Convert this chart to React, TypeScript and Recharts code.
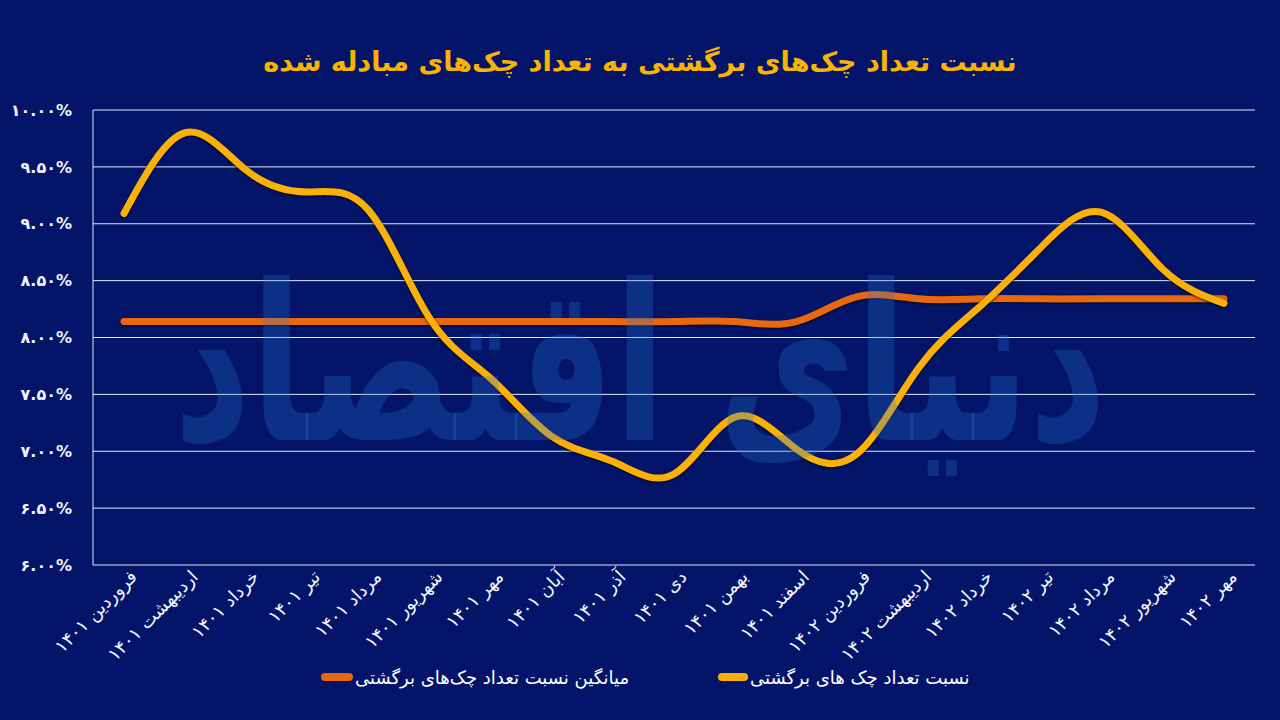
import React from 'react';
import { LineChart, Line, XAxis, YAxis, CartesianGrid } from 'recharts';

const months = [
  'فروردین ۱۴۰۱', 'اردیبهشت ۱۴۰۱', 'خرداد ۱۴۰۱', 'تیر ۱۴۰۱', 'مرداد ۱۴۰۱',
  'شهریور ۱۴۰۱', 'مهر ۱۴۰۱', 'آبان ۱۴۰۱', 'آذر ۱۴۰۱', 'دی ۱۴۰۱',
  'بهمن ۱۴۰۱', 'اسفند ۱۴۰۱', 'فروردین ۱۴۰۲', 'اردیبهشت ۱۴۰۲', 'خرداد ۱۴۰۲',
  'تیر ۱۴۰۲', 'مرداد ۱۴۰۲', 'شهریور ۱۴۰۲', 'مهر ۱۴۰۲',
];

const bouncedRatio = [
  9.09, 9.80, 9.47, 9.28, 9.12, 8.17, 7.64, 7.13, 6.91, 6.80,
  7.30, 7.02, 6.98, 7.73, 8.27, 8.79, 9.10, 8.60, 8.30,
];

const averageRatio = [
  8.14, 8.14, 8.14, 8.14, 8.14, 8.14, 8.14, 8.14, 8.14, 8.14,
  8.14, 8.14, 8.36, 8.34, 8.34, 8.34, 8.34, 8.34, 8.34,
];

const yTicks = [6, 6.5, 7, 7.5, 8, 8.5, 9, 9.5, 10];

const titleText = 'نسبت تعداد چک\u200cهای برگشتی به تعداد چک\u200cهای مبادله شده';
const ratioName = 'نسبت تعداد چک های برگشتی';
const avgName = 'میانگین نسبت تعداد چک\u200cهای برگشتی';
const watermarkText = 'دنیای اقتصاد';

const BG = '#041569';
const YELLOW = '#f9b10a';
const ORANGE = '#e8680f';
const GRID = '#e3e9f6';
const FONT = '"DejaVu Sans", sans-serif';
const WM = 'rgba(40,120,215,0.28)';

const toFa = (s: string) => s.replace(/\d/g, (d) => '۰۱۲۳۴۵۶۷۸۹'[Number(d)]);
const fmtY = (v: number) => toFa(v.toFixed(2)) + '%';

const XTick = (props: any) => {
  const { x, y, payload } = props;
  return (
    <g transform={`translate(${x + 14},${y + 5}) rotate(-45)`}>
      <text
        x={0}
        y={0}
        textAnchor="end"
        fill="#f2f5fb"
        fontSize={18}
        fontFamily={FONT}
      >
        {payload.value}
      </text>
    </g>
  );
};

export default function App() {
  const data = months.map((m, i) => ({
    month: m,
    ratio: bouncedRatio[i],
    avg: averageRatio[i],
  }));

  return (
    <div
      style={{
        position: 'absolute',
        left: 0,
        top: 0,
        width: 1280,
        height: 720,
        background: BG,
        overflow: 'hidden',
        fontFamily: FONT,
      }}
    >
      <div
        style={{
          position: 'absolute',
          top: 40,
          left: 0,
          width: 1280,
          textAlign: 'center',
          color: '#f8b400',
          fontSize: 27,
          fontWeight: 'bold',
          direction: 'rtl',
          lineHeight: '44px',
        }}
      >
        {titleText}
      </div>
      <LineChart
        width={1280}
        height={720}
        data={data}
        margin={{ top: 110, right: 25, bottom: 55, left: 0 }}
      >
        <CartesianGrid horizontal vertical={false} stroke={GRID} strokeWidth={1} />
        <XAxis
          dataKey="month"
          interval={0}
          padding={{ left: 31, right: 31 }}
          axisLine={false}
          tickLine={false}
          height={100}
          tick={<XTick />}
        />
        <YAxis
          domain={[6, 10]}
          ticks={yTicks}
          width={93}
          axisLine={{ stroke: GRID, strokeWidth: 1 }}
          tickLine={false}
          tickMargin={15}
          tick={{ fill: '#eef2fa', fontSize: 16, fontWeight: 'bold', fontFamily: FONT }}
          tickFormatter={fmtY}
        />
        <Line
          dataKey="avg"
          name={avgName}
          type="natural"
          stroke={ORANGE}
          strokeWidth={7}
          strokeLinecap="round"
          dot={false}
          activeDot={false}
          isAnimationActive={false}
          style={{ filter: 'drop-shadow(0px 1px 1px rgba(0,0,0,0.75))' }}
        />
        <Line
          dataKey="ratio"
          name={ratioName}
          type="natural"
          stroke={YELLOW}
          strokeWidth={7}
          strokeLinecap="round"
          dot={false}
          activeDot={false}
          isAnimationActive={false}
          style={{ filter: 'drop-shadow(0px 1px 1px rgba(0,0,0,0.75))' }}
        />
      </LineChart>
      <svg
        width={1280}
        height={720}
        style={{ position: 'absolute', left: 0, top: 0, pointerEvents: 'none' }}
      >
        <text
          transform="translate(640,440) scale(1,1.45)"
          x={0}
          y={0}
          textAnchor="middle"
          fontSize={150}
          fontWeight="bold"
          fontFamily={FONT}
          fill={WM}
        >
          {watermarkText}
        </text>
      </svg>
      <div
        style={{
          position: 'absolute',
          left: 321,
          top: 664,
          height: 26,
          display: 'flex',
          alignItems: 'center',
        }}
      >
        <div style={{ width: 32, height: 8, borderRadius: 4, background: ORANGE }} />
        <div style={{ color: '#ffffff', fontSize: 18, marginLeft: 2, direction: 'rtl', whiteSpace: 'nowrap' }}>{avgName}</div>
      </div>
      <div
        style={{
          position: 'absolute',
          left: 718,
          top: 664,
          height: 26,
          display: 'flex',
          alignItems: 'center',
        }}
      >
        <div style={{ width: 30, height: 8, borderRadius: 4, background: YELLOW }} />
        <div style={{ color: '#ffffff', fontSize: 18, marginLeft: 2, direction: 'rtl', whiteSpace: 'nowrap' }}>{ratioName}</div>
      </div>
    </div>
  );
}
